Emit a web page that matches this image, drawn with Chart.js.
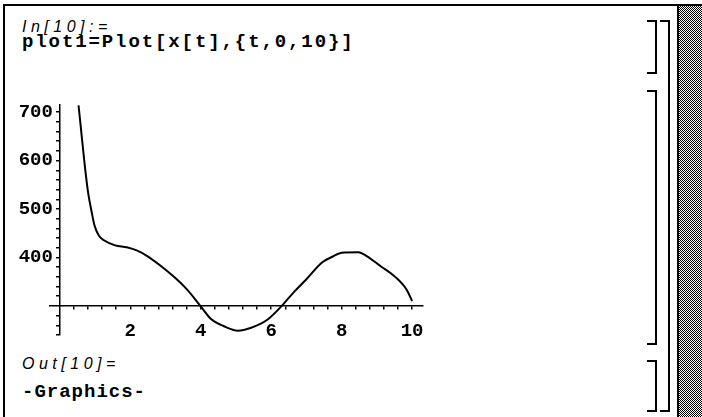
<!DOCTYPE html>
<html>
<head>
<meta charset="utf-8">
<script src="https://cdn.jsdelivr.net/npm/chart.js@4"></script>
<style>
  html, body { margin: 0; padding: 0; background: #fff; }
  #page { position: relative; width: 702px; height: 417px; overflow: hidden; background: #fff; }
  .frameTop { position: absolute; left: 3px; top: 4px; width: 699px; height: 2px; background: #000; }
  .frameLeft { position: absolute; left: 3px; top: 4px; width: 2px; height: 413px; background: #000; }
  .stipple { position: absolute; left: 679px; top: 6px; width: 23px; height: 411px;
    background: repeating-conic-gradient(#000 0 25%, #fff 0 50%) 0 0 / 2px 2px; }
  .sep { position: absolute; left: 677px; top: 6px; width: 2px; height: 411px; background: #000; }
  .br { position: absolute; border: 2px solid #000; border-left: none; }
  .label { position: absolute; left: 22px; font-family: "Liberation Sans", sans-serif; font-style: italic;
    font-size: 16px; line-height: 18px; letter-spacing: 4.5px; color: #000; white-space: nowrap; }
  .code { position: absolute; left: 22px; font-family: "Liberation Mono", monospace; font-weight: bold;
    font-size: 19px; line-height: 22px; color: #000; white-space: nowrap; }
  #plotBox { position: absolute; left: 0; top: 90px; width: 440px; height: 260px; }
</style>
</head>
<body>
<div id="page">
  <div class="frameTop"></div>
  <div class="frameLeft"></div>
  <div class="sep"></div>
  <div class="stipple"></div>

  <div class="label" style="top:18px;">In[10]:=</div>
  <div class="code" style="top:31px; letter-spacing:1.9px;">plot1=Plot[x[t],{t,0,10}]</div>
  <div class="label" style="top:355px;">Out[10]=</div>
  <div class="code" style="top:381px; letter-spacing:1px;">-Graphics-</div>

  <!-- cell brackets -->
  <div class="br" style="left:647px; top:20px; width:8px; height:50px;"></div>
  <div class="br" style="left:647px; top:90px; width:8px; height:251px;"></div>
  <div class="br" style="left:647px; top:360px; width:8px; height:48px;"></div>
  <div class="br" style="left:660px; top:20px; width:8px; height:388px;"></div>

  <div id="plotBox"><canvas id="plot"></canvas></div>
</div>
<script>
// x(t)
const tValues = [0.53, 0.60, 0.70, 0.80, 0.90, 0.98, 1.10, 1.24, 1.57, 1.90, 2.20, 2.48, 2.86, 3.24, 3.62, 4.00, 4.29, 4.66, 5.05, 5.43, 5.90, 6.30, 6.60, 7.00, 7.45, 7.75, 8.00, 8.48, 8.71, 9.09, 9.52, 9.85, 10.0];
const xValues = [714, 665, 595, 535, 495, 467, 446, 436, 425, 421, 414, 403, 383, 360, 333, 299, 273, 258, 249, 255, 272, 300, 325, 355, 390, 402, 410, 411, 403, 383, 360, 333, 310];

// axes ticks (major labelled, minor every fifth)
const xMajorTicks = [2, 4, 6, 8, 10];
const yMajorTicks = [400, 500, 600, 700];
const xMinorStep = 0.4;
const yMinorStep = 20;

const points = tValues.map((t, i) => ({ x: t, y: xValues[i] }));

const tickFont = { family: "Liberation Mono", weight: "bold", size: 19 };

function isMajor(v, majors) {
  return majors.some((m) => Math.abs(m - v) < 1e-6);
}

// a linear scale whose labels sit a little left of a crossing y axis
class CrossLinearScale extends Chart.LinearScale {
  _computeLabelItems(chartArea) {
    const items = super._computeLabelItems(chartArea);
    const shift = this.options.labelShift || 0;
    items.forEach((item) => {
      item.options.translation[0] -= shift;
    });
    return items;
  }
}
CrossLinearScale.id = "crossLinear";
CrossLinearScale.defaults = Chart.LinearScale.defaults;
Chart.register(CrossLinearScale);

const ctx = document.getElementById("plot").getContext("2d");
const chart = new Chart(ctx, {
  type: "line",
  data: {
    datasets: [
      {
        data: points,
        borderColor: "#000",
        borderWidth: 2,
        pointRadius: 0,
        cubicInterpolationMode: "monotone",
        fill: false,
      },
    ],
  },
  options: {
    responsive: true,
    maintainAspectRatio: false,
    animation: false,
    layout: { padding: { left: 50, right: 17, top: 7, bottom: 15 } },
    plugins: { legend: { display: false }, tooltip: { enabled: false } },
    scales: {
      x: {
        type: "linear",
        min: -0.28,
        max: 10.31,
        position: { y: 300 },
        afterBuildTicks: (scale) => {
          const ticks = [];
          for (let v = xMinorStep; v <= 10 + 1e-6; v += xMinorStep) ticks.push({ value: +v.toFixed(2) });
          scale.ticks = ticks;
        },
        grid: { drawOnChartArea: false, color: "#000", tickLength: 3, lineWidth: 1.5 },
        border: { color: "#000", width: 1.5 },
        ticks: {
          color: "#000",
          font: tickFont,
          padding: 11,
          autoSkip: false,
          maxRotation: 0,
          callback: (v) => (isMajor(v, xMajorTicks) ? String(v) : ""),
        },
      },
      y: {
        type: "crossLinear",
        labelShift: 7,
        min: 240,
        max: 716,
        position: { x: 0 },
        afterBuildTicks: (scale) => {
          const ticks = [];
          for (let v = 240; v <= 716; v += yMinorStep) if (v !== 300) ticks.push({ value: v });
          scale.ticks = ticks;
        },
        grid: { drawOnChartArea: false, color: "#000", tickLength: 3, lineWidth: 1.5 },
        border: { color: "#000", width: 1.5 },
        ticks: {
          color: "#000",
          font: tickFont,
          autoSkip: false,
          callback: (v) => (isMajor(v, yMajorTicks) ? String(v) : ""),
        },
      },
    },
  },
});
</script>
</body>
</html>
